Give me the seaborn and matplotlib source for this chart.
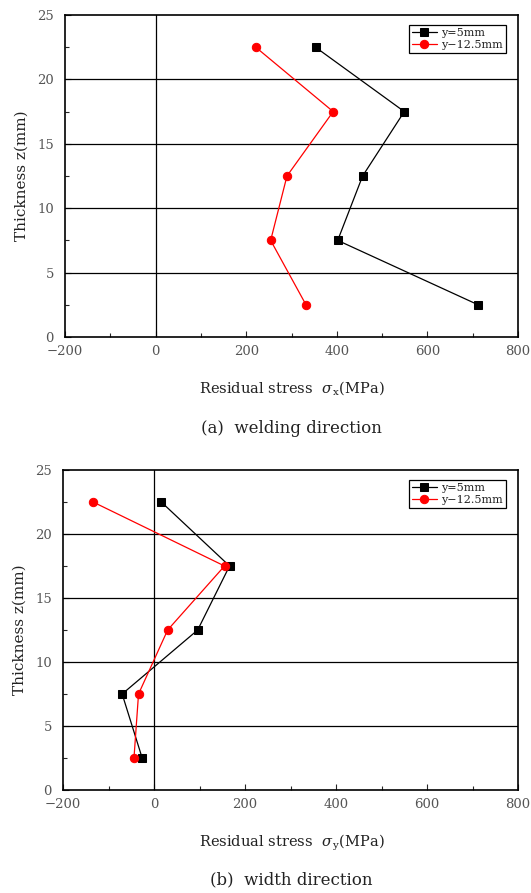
import numpy as np
import pandas as pd
import matplotlib
matplotlib.use("Agg")
import matplotlib.pyplot as plt
from matplotlib.ticker import MultipleLocator
import seaborn as sns

# ---- data ----
thickness = [2.5, 7.5, 12.5, 17.5, 22.5]
series_names = ["y=5mm", "y\u221212.5mm"]
sx_y5 = [712, 402, 457, 549, 353]
sx_y125 = [332, 254, 290, 392, 221]
sy_y5 = [-26, -70, 96, 166, 16]
sy_y125 = [-44, -34, 30, 155, -134]
x_ticks = [-200, 0, 200, 400, 600, 800]
y_ticks = [0, 5, 10, 15, 20, 25]
captions = ["(a)  welding direction", "(b)  width direction"]
xlabels = ["Residual stress  $\\sigma_{\\,\\rm x}$(MPa)", "Residual stress  $\\sigma_{\\,\\rm y}$(MPa)"]

sns.set_style("white")
plt.rcParams["font.family"] = ["DejaVu Serif"]
plt.rcParams["mathtext.fontset"] = "dejavuserif"

fig = plt.figure(figsize=(5.31, 8.93), dpi=100)
ax1 = fig.add_axes([65/531, 1-337/893, 453/531, 322/893])
ax2 = fig.add_axes([63/531, 1-790/893, 455/531, 320/893])

palette = {series_names[0]: "black", series_names[1]: "red"}
markers = {series_names[0]: "s", series_names[1]: "o"}

def make_df(a, b):
    return pd.DataFrame({
        "stress": list(a) + list(b),
        "z": thickness + thickness,
        "series": [series_names[0]]*len(a) + [series_names[1]]*len(b),
    })

for ax, (a, b), xl, cap, capy, xly in zip(
        [ax1, ax2], [(sx_y5, sx_y125), (sy_y5, sy_y125)], xlabels, captions,
        [428, 880], [388, 843]):
    df = make_df(a, b)
    for name in series_names:
        sub = df[df["series"] == name]
        sns.lineplot(data=sub, x="stress", y="z", sort=False, ax=ax,
                     color=palette[name], marker=markers[name],
                     markersize=6.0 if name == series_names[1] else 5.2,
                     markeredgecolor=palette[name], linewidth=0.9,
                     label=name, estimator=None)
    ax.set_xlim(-200, 800)
    ax.set_ylim(0, 25)
    ax.set_xticks(x_ticks)
    ax.set_xticklabels([("\u2212" + str(-t)) if t < 0 else str(t) for t in x_ticks])
    ax.set_yticks(y_ticks)
    ax.xaxis.set_minor_locator(MultipleLocator(100))
    ax.yaxis.set_minor_locator(MultipleLocator(2.5))
    ax.tick_params(axis="both", which="both", direction="in", left=True, bottom=True,
                   top=False, right=False, labelsize=9.5, labelcolor="#555555")
    ax.tick_params(which="major", length=4, width=0.8)
    ax.tick_params(which="minor", length=3, width=0.8)
    ax.tick_params(axis="x", which="major", pad=6)
    ax.tick_params(axis="y", which="major", pad=8)
    for yv in [5, 10, 15, 20]:
        ax.axhline(yv, color="black", linewidth=0.9, zorder=1)
    ax.axvline(0, color="black", linewidth=0.9, zorder=1)
    for s in ax.spines.values():
        s.set_color("black")
        s.set_linewidth(1.2)
    ax.set_xlabel("")
    ax.set_ylabel("Thickness z(mm)", fontsize=11, color="#222222", labelpad=6)
    fig.text((65+518)/2/531, 1-xly/893, xl, ha="center", va="center",
             fontsize=10.5, color="#222222")
    fig.text((65+518)/2/531, 1-capy/893, cap, ha="center", va="center",
             fontsize=12, color="#222222")
    leg = ax.legend(loc="upper right", fontsize=8, frameon=True, fancybox=False,
                    edgecolor="black", framealpha=1, handlelength=2.2,
                    borderpad=0.25, labelspacing=0.2, handletextpad=0.4,
                    bbox_to_anchor=(0.985, 0.985))
    leg.get_frame().set_linewidth(0.9)
    for t in leg.get_texts():
        t.set_color("#222222")

fig.savefig("out.png", dpi=100)
